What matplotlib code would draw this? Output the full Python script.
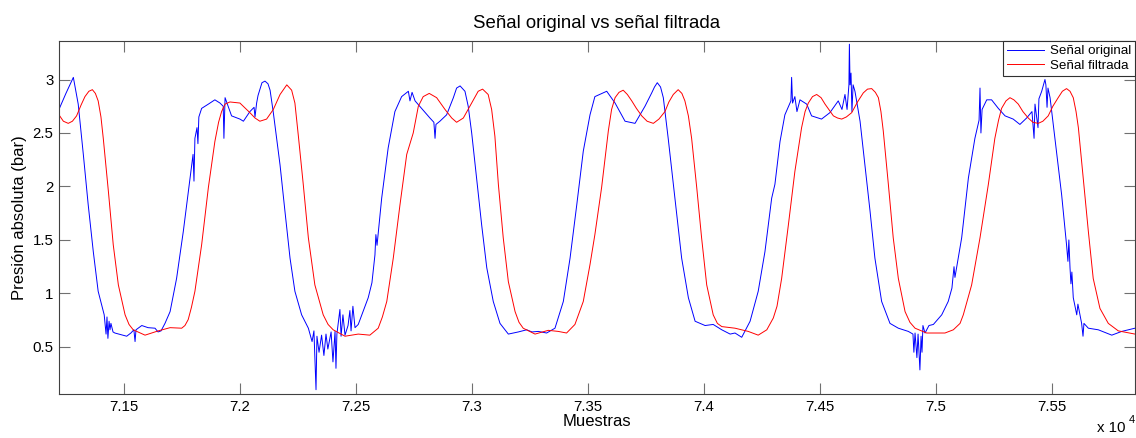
import matplotlib
matplotlib.use('Agg')
import matplotlib.pyplot as plt
from matplotlib.ticker import FuncFormatter

plt.rcParams['font.family'] = ['Liberation Sans', 'DejaVu Sans']

# Valores (muestra, presion en bar)
orig_x = [71221, 71251, 71283, 71304, 71326, 71347, 71369, 71390, 71416,
          71424, 71428, 71432, 71437, 71441, 71445, 71454, 71462, 71513, 71531,
          71544, 71549, 71553, 71578, 71605, 71635, 71648, 71661, 71678, 71700,
          71728, 71757, 71786, 71799, 71803, 71807, 71816, 71820, 71824, 71836,
          71865, 71893, 71915, 71929, 71932, 71937, 71965, 72001, 72016, 72044,
          72062, 72066, 72073, 72079, 72096, 72109, 72122, 72131, 72145, 72160,
          72174, 72195,
          72217, 72238, 72267, 72296, 72312, 72320, 72329, 72333, 72342, 72353,
          72363, 72372, 72380, 72394, 72402, 72411, 72415, 72419, 72432, 72437,
          72445, 72454, 72467, 72475, 72480, 72488, 72497, 72511, 72554, 72570,
          72583, 72587, 72592, 72612, 72640, 72669, 72698, 72727, 72734, 72743,
          72756, 72784, 72820, 72837, 72842, 72846, 72863, 72892, 72921, 72935,
          72950, 72971, 72985, 73000, 73021, 73043, 73065, 73093, 73122, 73158,
          73201, 73237,
          73260, 73287, 73323, 73359, 73395, 73424, 73453, 73481, 73510, 73531,
          73582, 73618, 73661, 73704, 73747, 73776, 73788, 73800, 73814, 73826,
          73847, 73876,
          73905, 73934, 73963, 74006, 74041, 74078, 74114, 74135, 74164, 74200,
          74235, 74264, 74293, 74307, 74329, 74350, 74376, 74379, 74383, 74393,
          74402, 74415, 74444, 74465, 74508, 74544, 74580, 74596, 74609, 74618,
          74626, 74628, 74631, 74635, 74639, 74644, 74652, 74674, 74695, 74717,
          74738, 74767, 74803, 74839, 74882, 74902, 74906, 74911, 74919, 74924,
          74932, 74937, 74941, 74945, 74954, 74971, 74990, 75026, 75054, 75070,
          75079, 75083, 75112, 75141, 75169, 75187, 75191, 75195, 75200, 75220,
          75241, 75270, 75299, 75334, 75363, 75392, 75415, 75424, 75428, 75441,
          75445, 75457, 75471, 75475, 75480, 75484, 75493, 75514, 75543, 75564,
          75570, 75574, 75579, 75583, 75587, 75593, 75608, 75613, 75629, 75635,
          75639, 75658, 75701, 75759, 75802, 75859]
orig_y = [2.72, 2.87, 3.02, 2.77, 2.30, 1.83, 1.39, 1.02, 0.80,
          0.62, 0.78, 0.58, 0.74, 0.66, 0.72, 0.64, 0.63, 0.60, 0.63,
          0.66, 0.55, 0.66, 0.70, 0.68, 0.675, 0.64, 0.65, 0.72, 0.83,
          1.14, 1.58, 2.08, 2.30, 2.05, 2.45, 2.55, 2.40, 2.65, 2.73,
          2.77, 2.81, 2.78, 2.75, 2.45, 2.83, 2.66, 2.63, 2.61, 2.70,
          2.74, 2.65, 2.78, 2.85, 2.97, 2.985, 2.96, 2.90, 2.69, 2.44,
          2.20, 1.77,
          1.33, 1.02, 0.80, 0.675, 0.55, 0.65, 0.10, 0.60, 0.45, 0.61,
          0.42, 0.62, 0.48, 0.64, 0.36, 0.645, 0.30, 0.62, 0.85, 0.60,
          0.80, 0.61, 0.70, 0.84, 0.65, 0.88, 0.68, 0.71, 0.96, 1.10,
          1.36, 1.55, 1.45, 1.89, 2.36, 2.70, 2.84, 2.89, 2.80, 2.88,
          2.80, 2.73, 2.64, 2.60, 2.45, 2.58, 2.61, 2.67, 2.83, 2.92,
          2.94, 2.89, 2.75, 2.50, 2.08, 1.64, 1.24, 0.925, 0.72, 0.62,
          0.64, 0.66,
          0.64, 0.645, 0.63, 0.675, 0.925, 1.33, 1.83, 2.33, 2.67, 2.84,
          2.89, 2.78, 2.61, 2.59, 2.75, 2.875, 2.93, 2.97, 2.93, 2.83,
          2.45, 1.89,
          1.33, 0.96, 0.74, 0.70, 0.71, 0.66, 0.62, 0.63, 0.59, 0.74,
          1.02, 1.39, 1.89, 2.02, 2.42, 2.67, 2.80, 3.02, 2.78, 2.84,
          2.70, 2.81, 2.77, 2.66, 2.63, 2.69, 2.80, 2.72, 2.86, 2.72,
          2.95, 3.33, 2.95, 3.06, 2.70, 2.95, 2.89, 2.61, 2.20, 1.77,
          1.33, 0.925, 0.72, 0.675, 0.645, 0.62, 0.45, 0.63, 0.40, 0.62,
          0.285, 0.60, 0.45, 0.70, 0.63, 0.70, 0.71, 0.80, 0.925, 1.05,
          1.25, 1.15, 1.52, 2.08, 2.45, 2.62, 2.92, 2.50, 2.72, 2.81,
          2.81, 2.73, 2.66, 2.63, 2.58, 2.64, 2.70, 2.45, 2.77, 2.55,
          2.82, 2.89, 3.00, 2.95, 2.74, 2.92, 2.83, 2.45, 1.92, 1.455,
          1.30, 1.50, 1.24, 1.09, 1.20, 0.96, 0.80, 0.90, 0.72, 0.60,
          0.72, 0.675, 0.66, 0.61, 0.645, 0.675]

filt_x = [71221, 71240, 71261, 71279, 71297, 71316, 71333, 71350, 71365,
          71378, 71390, 71402, 71412, 71434, 71455, 71477, 71506, 71523, 71541,
          71592, 71649, 71700, 71750, 71764, 71778, 71792, 71807, 71836, 71865,
          71893, 71909, 71922, 71937, 71958, 72001, 72044, 72066, 72087, 72116,
          72145, 72174, 72203, 72224, 72238, 72253, 72274, 72296, 72324, 72360,
          72381, 72403, 72454, 72511, 72561, 72597, 72615, 72634, 72662, 72691,
          72720, 72748, 72770, 72791, 72817, 72849, 72885, 72914, 72935, 72964,
          73000, 73028, 73047, 73071, 73086, 73100, 73115, 73136, 73158, 73187,
          73204, 73222, 73273, 73330, 73373, 73409, 73445, 73481, 73510, 73531,
          73560, 73589, 73603, 73618, 73635, 73653, 73671, 73690, 73710, 73733,
          73756, 73783, 73807, 73833, 73850, 73869, 73890, 73906, 73919, 73934,
          73948, 73970, 73991, 74013, 74041, 74059, 74078, 74135, 74192, 74235,
          74272, 74300, 74316, 74336, 74365, 74393, 74422, 74437, 74451, 74469,
          74487, 74506, 74523, 74559, 74577, 74595, 74615, 74638, 74663, 74688,
          74706, 74724, 74740, 74753, 74764, 74774, 74796, 74817, 74839, 74868,
          74889, 74911, 74961, 75040, 75076, 75105, 75119, 75155, 75191, 75227,
          75255, 75271, 75284, 75303, 75320, 75337, 75356, 75376, 75399, 75419,
          75442, 75462, 75485, 75505, 75528, 75546, 75564, 75579, 75593, 75605,
          75615, 75636, 75658, 75679, 75708, 75744, 75787, 75859]
filt_y = [2.67, 2.61, 2.59, 2.61, 2.66, 2.76, 2.84, 2.89, 2.905,
          2.87, 2.80, 2.65, 2.45, 1.955, 1.455, 1.08, 0.80, 0.71, 0.66,
          0.61, 0.65, 0.68, 0.675, 0.70, 0.755, 0.87, 1.02, 1.455, 1.99,
          2.42, 2.60, 2.70, 2.77, 2.79, 2.78, 2.69, 2.64, 2.61, 2.63,
          2.72, 2.86, 2.95, 2.90, 2.78, 2.47, 2.02, 1.52, 1.08, 0.80,
          0.71, 0.66, 0.60, 0.62, 0.61, 0.675, 0.78, 0.925, 1.33, 1.83,
          2.30, 2.50, 2.75, 2.84, 2.87, 2.83, 2.72, 2.64, 2.60, 2.64,
          2.78, 2.89, 2.91, 2.86, 2.72, 2.47, 2.02, 1.52, 1.11, 0.83,
          0.73, 0.675, 0.62, 0.655, 0.645, 0.63, 0.71, 0.925, 1.27, 1.55,
          1.99, 2.52, 2.72, 2.83, 2.88, 2.90, 2.86, 2.80, 2.73, 2.66,
          2.61, 2.59, 2.63, 2.70, 2.79, 2.86, 2.905, 2.87, 2.80, 2.66,
          2.45, 1.99, 1.52, 1.08, 0.80, 0.72, 0.69, 0.675, 0.645, 0.61,
          0.66, 0.77, 0.88, 1.14, 1.64, 2.14, 2.55, 2.70, 2.78, 2.84,
          2.86, 2.83, 2.77, 2.66, 2.64, 2.63, 2.65, 2.69, 2.79, 2.875,
          2.91, 2.915, 2.88, 2.83, 2.70, 2.52, 2.02, 1.52, 1.14, 0.83,
          0.73, 0.675, 0.63, 0.63, 0.66, 0.72, 0.80, 1.08, 1.52, 2.02,
          2.45, 2.62, 2.73, 2.80, 2.83, 2.81, 2.77, 2.70, 2.64, 2.60,
          2.59, 2.61, 2.66, 2.75, 2.83, 2.89, 2.915, 2.89, 2.83, 2.70,
          2.55, 2.08, 1.58, 1.14, 0.86, 0.72, 0.65, 0.62]

xticks = [71500, 72000, 72500, 73000, 73500, 74000, 74500, 75000, 75500]
yticks = [0.5, 1, 1.5, 2, 2.5, 3]

fig = plt.figure(figsize=(11.36, 4.38), dpi=100)
ax = fig.add_axes([0.0519, 0.1005, 0.9472, 0.8059])

ax.plot(orig_x, orig_y, color='blue', lw=0.7, label='Señal original')
ax.plot(filt_x, filt_y, color='red', lw=0.7, label='Señal filtrada')

ax.set_xlim(71221, 75859)
ax.set_ylim(0.06, 3.36)
ax.set_xticks(xticks)
ax.set_yticks(yticks)
ax.xaxis.set_major_formatter(FuncFormatter(lambda v, p: f'{v / 1e4:g}'))
ax.yaxis.set_major_formatter(FuncFormatter(lambda v, p: f'{v:g}'))
ax.tick_params(direction='in', length=7.8, width=0.8, color='#707070',
               top=True, right=True, labelsize=10.8, pad=4)
for s in ax.spines.values():
    s.set_color('#404040')
    s.set_linewidth(0.8)

ax.set_title('Señal original vs señal filtrada', fontsize=13.4, pad=9)
ax.set_xlabel('Muestras', fontsize=12, labelpad=0)
ax.set_ylabel('Presión absoluta (bar)', fontsize=12, labelpad=4)

fig.text(0.9655, 0.006, 'x 10', fontsize=10.8, ha='left', va='bottom')
fig.text(0.9935, 0.03, '4', fontsize=8, ha='left', va='bottom')

leg = ax.legend(loc='upper right', fontsize=9.6, fancybox=False,
                borderaxespad=0, framealpha=1, edgecolor='#303030',
                handlelength=2.8, handletextpad=0.4, borderpad=0.3,
                labelspacing=0.15)
leg.get_frame().set_linewidth(0.8)

fig.savefig('out.png', dpi=100)
